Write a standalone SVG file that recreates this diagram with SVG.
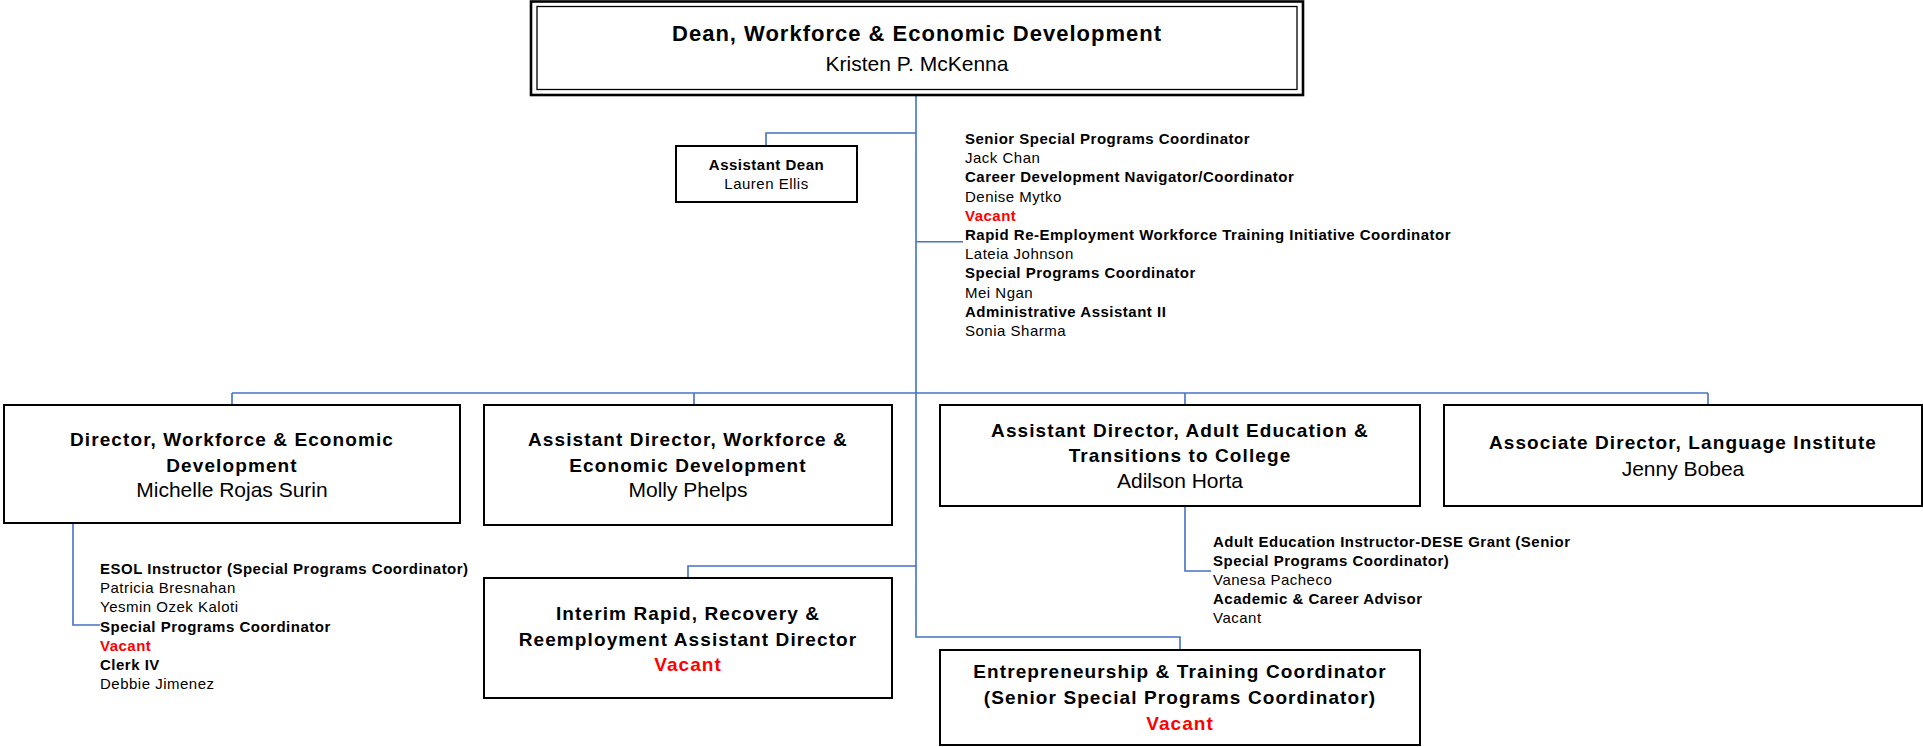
<svg xmlns="http://www.w3.org/2000/svg" width="1923" height="747" viewBox="0 0 1923 747">
<style>
.bx{fill:#fff;stroke:#000;stroke-width:2}
.ttl{font-family:"Liberation Sans",Arial,sans-serif;font-weight:bold;font-size:19px;letter-spacing:1.1px;fill:#000;text-anchor:middle}
.nm{font-family:"Liberation Sans",Arial,sans-serif;font-size:21px;fill:#000;text-anchor:middle}
.vac{font-family:"Liberation Sans",Arial,sans-serif;font-weight:bold;font-size:19px;letter-spacing:1.05px;fill:#FF0000;text-anchor:middle}
.sb{font-family:"Liberation Sans",Arial,sans-serif;font-weight:bold;font-size:15px;letter-spacing:0.5px;fill:#000}
.sr{font-family:"Liberation Sans",Arial,sans-serif;font-size:15px;letter-spacing:0.5px;fill:#000}
.sv{font-family:"Liberation Sans",Arial,sans-serif;font-weight:bold;font-size:15px;letter-spacing:0.5px;fill:#FF0000}
.cn{fill:none;stroke:#4472C4;stroke-width:1.6}
</style>
<rect width="1923" height="747" fill="#fff"/>
<g id="connectors">
<path class="cn" d="M916 95 V637 H1180 V650"/>
<path class="cn" d="M916 133 H766 V146"/>
<path class="cn" d="M916 241.7 H963"/>
<path class="cn" d="M232 393 H1708"/>
<path class="cn" d="M232 393 V405 M694 393 V405 M1185 393 V405 M1708 393 V405"/>
<path class="cn" d="M916 566 H688 V578"/>
<path class="cn" d="M73 523 V625 H100"/>
<path class="cn" d="M1185 506 V571 H1211"/>
</g>
<g id="dean">
<rect x="531" y="1.5" width="772" height="93.5" fill="#fff" stroke="#000" stroke-width="2.6"/>
<rect x="537" y="6.5" width="760" height="83" fill="none" stroke="#000" stroke-width="1.3"/>
<text class="ttl" x="917" y="41" style="font-size:22px;letter-spacing:1px">Dean, Workforce &amp; Economic Development</text>
<text class="nm" x="917" y="70.5">Kristen P. McKenna</text>
</g>
<g id="assistant-dean">
<rect class="bx" x="676" y="146" width="181" height="56"/>
<text class="sb" x="766.5" y="170" text-anchor="middle">Assistant Dean</text>
<text class="sr" x="766.5" y="189" text-anchor="middle">Lauren Ellis</text>
</g>
<g id="dean-staff">
<text class="sb" x="965" y="144">Senior Special Programs Coordinator</text>
<text class="sr" x="965" y="163.2">Jack Chan</text>
<text class="sb" x="965" y="182.4">Career Development Navigator/Coordinator</text>
<text class="sr" x="965" y="201.6">Denise Mytko</text>
<text class="sv" x="965" y="220.8">Vacant</text>
<text class="sb" x="965" y="240">Rapid Re-Employment Workforce Training Initiative Coordinator</text>
<text class="sr" x="965" y="259.2">Lateia Johnson</text>
<text class="sb" x="965" y="278.4">Special Programs Coordinator</text>
<text class="sr" x="965" y="297.6">Mei Ngan</text>
<text class="sb" x="965" y="316.8">Administrative Assistant II</text>
<text class="sr" x="965" y="336">Sonia Sharma</text>
</g>
<g id="director-wed">
<rect class="bx" x="4" y="405" width="456" height="118"/>
<text class="ttl" x="232" y="445.7">Director, Workforce &amp; Economic</text>
<text class="ttl" x="232" y="471.5">Development</text>
<text class="nm" x="232" y="497">Michelle Rojas Surin</text>
</g>
<g id="director-staff">
<text class="sb" x="100" y="574">ESOL Instructor (Special Programs Coordinator)</text>
<text class="sr" x="100" y="593.2">Patricia Bresnahan</text>
<text class="sr" x="100" y="612.4">Yesmin Ozek Kaloti</text>
<text class="sb" x="100" y="631.6">Special Programs Coordinator</text>
<text class="sv" x="100" y="650.8">Vacant</text>
<text class="sb" x="100" y="670">Clerk IV</text>
<text class="sr" x="100" y="689.2">Debbie Jimenez</text>
</g>
<g id="asst-director-wed">
<rect class="bx" x="484" y="405" width="408" height="120"/>
<text class="ttl" x="688" y="445.7">Assistant Director, Workforce &amp;</text>
<text class="ttl" x="688" y="471.5">Economic Development</text>
<text class="nm" x="688" y="497">Molly Phelps</text>
</g>
<g id="asst-director-adult-ed">
<rect class="bx" x="940" y="405" width="480" height="101"/>
<text class="ttl" x="1180" y="437">Assistant Director, Adult Education &amp;</text>
<text class="ttl" x="1180" y="462">Transitions to College</text>
<text class="nm" x="1180" y="488">Adilson Horta</text>
</g>
<g id="adult-ed-staff">
<text class="sb" x="1213" y="546.6">Adult Education Instructor-DESE Grant (Senior</text>
<text class="sb" x="1213" y="565.8">Special Programs Coordinator)</text>
<text class="sr" x="1213" y="585">Vanesa Pacheco</text>
<text class="sb" x="1213" y="604.2">Academic &amp; Career Advisor</text>
<text class="sr" x="1213" y="623.4">Vacant</text>
</g>
<g id="associate-director-li">
<rect class="bx" x="1444" y="405" width="478" height="101"/>
<text class="ttl" x="1683" y="449">Associate Director, Language Institute</text>
<text class="nm" x="1683" y="475.5">Jenny Bobea</text>
</g>
<g id="interim-rrr">
<rect class="bx" x="484" y="578" width="408" height="120"/>
<text class="ttl" x="688" y="620">Interim Rapid, Recovery &amp;</text>
<text class="ttl" x="688" y="646">Reemployment Assistant Director</text>
<text class="vac" x="688" y="671">Vacant</text>
</g>
<g id="entrepreneurship">
<rect class="bx" x="940" y="650" width="480" height="95"/>
<text class="ttl" x="1180" y="678">Entrepreneurship &amp; Training Coordinator</text>
<text class="ttl" x="1180" y="704">(Senior Special Programs Coordinator)</text>
<text class="vac" x="1180" y="730">Vacant</text>
</g>
</svg>
